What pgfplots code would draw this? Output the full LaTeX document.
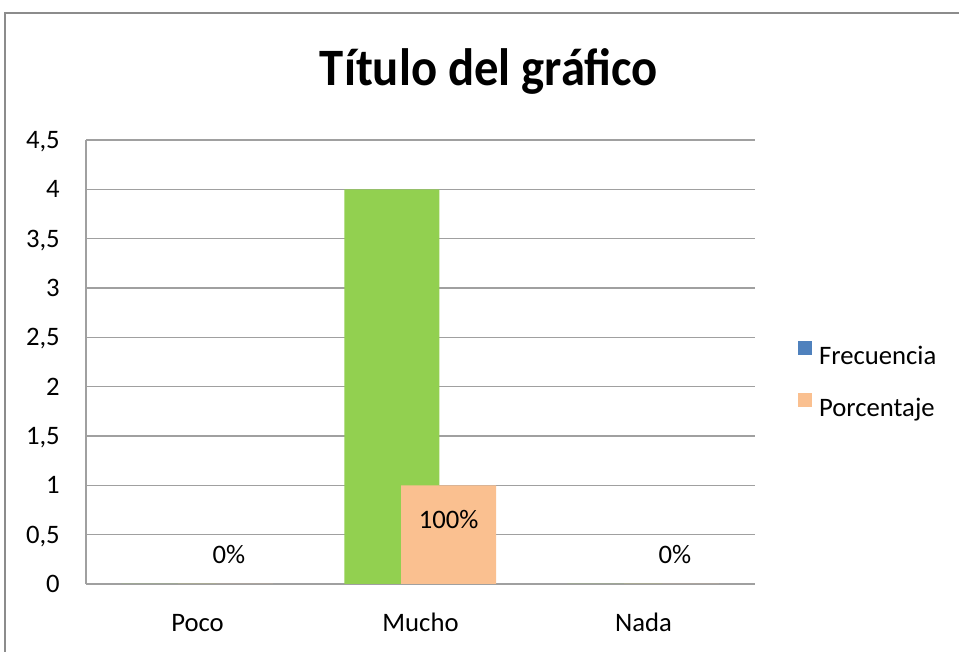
\documentclass[border=0pt]{standalone}
\usepackage{fontspec}
\setmainfont{Carlito}
\usepackage{pgfplots}
\pgfplotsset{compat=1.18}
\definecolor{frec}{HTML}{4F81BD}
\definecolor{verde}{HTML}{92D050}
\definecolor{porc}{HTML}{FAC090}
\definecolor{rejilla}{HTML}{A0A0A0}
\definecolor{marco}{HTML}{8C8C8C}

\begin{document}
\begin{tikzpicture}[x=0.75pt,y=0.75pt]
\useasboundingbox (-86,-68) rectangle (873,584);
% marco del grafico (solo se ven los bordes superior e izquierdo)
\draw[marco, line width=1.5pt] (-81,-90) -- (-81,571) -- (890,571);
\node[anchor=base, font=\fontsize{36.5}{40}\selectfont\bfseries, yscale=1.08, transform shape]
  at (403,498) {Título del gráfico};
\begin{axis}[
  at={(0,0)}, anchor=south west,
  scale only axis, width=501.75pt, height=333pt,
  xmin=-0.5, xmax=2.5, ymin=0, ymax=4.5,
  xtick={0,1,2}, xticklabels={Poco,Mucho,Nada},
  ytick={0,0.5,1,1.5,2,2.5,3,3.5,4,4.5},
  axis x line*=bottom, axis y line*=left,
  axis line style={rejilla, line width=0.9pt},
  ymajorgrids, grid style={rejilla, line width=0.9pt},
  major tick length=0pt,
  /pgf/number format/use comma,
  /pgf/number format/assume math mode=true,
  tick label style={font=\fontsize{20}{24}\selectfont},
  yticklabel style={anchor=base east, inner sep=0pt, xshift=-19.5pt, yshift=-6.3pt},
  xticklabel style={anchor=base, inner sep=0pt, yshift=-36pt},
  legend cell align=left,
  legend image code/.code={\fill[#1] (0pt,0.6pt) rectangle (10.5pt,11.1pt);},
  legend style={at={(1.064,0.46)}, anchor=west, draw=none, fill=none,
    inner sep=0pt, font=\fontsize{20}{24}\selectfont,
    nodes={inner sep=0pt}, row sep=20pt,
    /tikz/every odd column/.append style={column sep=5.25pt}},
]
% Frecuencia (el punto de Mucho esta coloreado en verde)
\addplot[ybar, fill=verde, draw=none, bar width=0.426, bar shift=-0.128, forget plot]
  coordinates {(0,0) (1,4) (2,0)};
% Porcentaje (1 = 100%)
\addplot[ybar, fill=porc, draw=none, bar width=0.426, bar shift=0.126, forget plot]
  coordinates {(0,0) (1,1) (2,0)};
% etiquetas de datos
\addplot[draw=none, mark=none, forget plot, nodes near coords={\pgfplotspointmeta\%},
  point meta=explicit symbolic,
  every node near coord/.append style={anchor=center, inner sep=0pt, font=\fontsize{20}{24}\selectfont}]
  coordinates {(0.141,0.294) [0] (1.126,0.649) [100] (2.141,0.294) [0]};
\addlegendimage{fill=frec, draw=none}
\addlegendentry{Frecuencia}
\addlegendimage{fill=porc, draw=none}
\addlegendentry{Porcentaje}
\end{axis}
\end{tikzpicture}
\end{document}
